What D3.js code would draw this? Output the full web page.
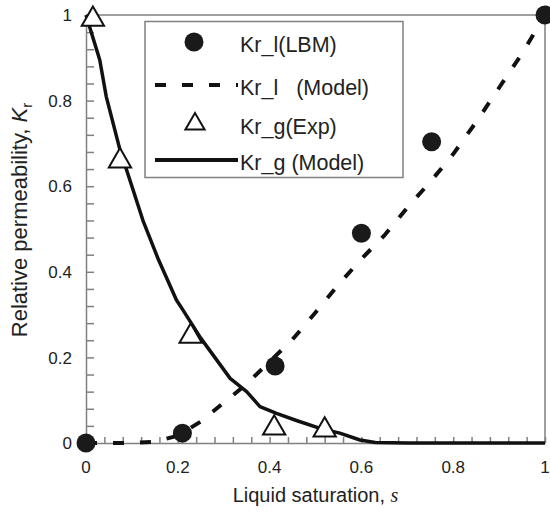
<!DOCTYPE html>
<html>
<head>
<meta charset="utf-8">
<script src="https://cdn.jsdelivr.net/npm/d3@7"></script>
<style>
  body { margin: 0; background: #fff; }
  svg { display: block; font-family: 'Liberation Sans', Arial, sans-serif; }
</style>
</head>
<body>
<svg id="chart" width="550" height="517"></svg>
<script>
// data
const lbmS = [0, 0.21, 0.412, 0.6, 0.753, 1.0]
const lbmKr = [0, 0.023, 0.18, 0.49, 0.704, 1.0]

const expS = [0.015, 0.074, 0.228, 0.41, 0.52]
const expKr = [0.99, 0.659, 0.249, 0.035, 0.03]

const klModelS = [0, 0.1, 0.15, 0.2, 0.25, 0.3, 0.35, 0.4, 0.45, 0.5, 0.55, 0.6, 0.65, 0.7, 0.75, 0.8, 0.85, 0.9, 0.95, 1.0]
const klModelKr = [0, 0, 0.003, 0.017, 0.05, 0.094, 0.138, 0.19, 0.242, 0.305, 0.37, 0.43, 0.485, 0.55, 0.61, 0.675, 0.75, 0.83, 0.91, 1.0]

const kgModelS = [0, 0.02, 0.03, 0.044, 0.074, 0.1, 0.125, 0.158, 0.197, 0.211, 0.25, 0.314, 0.35, 0.379, 0.415, 0.46, 0.51, 0.553, 0.597, 0.63, 0.7, 1.0]
const kgModelKr = [1.0, 0.93, 0.895, 0.81, 0.685, 0.6, 0.517, 0.428, 0.334, 0.311, 0.245, 0.151, 0.12, 0.085, 0.069, 0.052, 0.034, 0.023, 0.007, 0.001, 0, 0]

const majorTicks = [0, 0.2, 0.4, 0.6, 0.8, 1]
const tickLabels = ['0', '0.2', '0.4', '0.6', '0.8', '1']
const legendLabels = ['Kr_l(LBM)', 'Kr_l   (Model)', 'Kr_g(Exp)', 'Kr_g (Model)']

const margin = { top: 15, right: 5, bottom: 74, left: 86 }
const W = 550, H = 517
const innerW = W - margin.left - margin.right
const innerH = H - margin.top - margin.bottom
const axisColor = '#808080'
const textColor = '#222'

const svg = d3.select('#chart')
const g = svg.append('g').attr('transform', `translate(${margin.left},${margin.top})`)

const x = d3.scaleLinear().domain([0, 1]).range([0, innerW])
const y = d3.scaleLinear().domain([0, 1]).range([innerH, 0])

const minorTicks = d3.range(0, 26).map(i => i * 0.04)

// 边框 (top/right)
g.append('path')
  .attr('d', `M0,0H${innerW}V${innerH}`)
  .attr('fill', 'none')
  .attr('stroke', axisColor)
  .attr('stroke-width', 1.5)

// x axis
const xAxis = d3.axisBottom(x).tickValues(minorTicks).tickSizeInner(-6).tickSizeOuter(0).tickFormat('')
const xAxisG = g.append('g').attr('transform', `translate(0,${innerH})`).call(xAxis)
xAxisG.selectAll('path, line').attr('stroke', axisColor).attr('stroke-width', 1.5)

xAxisG.selectAll('text.tick-label')
  .data(majorTicks)
  .join('text')
  .attr('class', 'tick-label')
  .attr('x', d => x(d))
  .attr('y', 30)
  .attr('text-anchor', 'middle')
  .attr('font-size', 17)
  .attr('fill', textColor)
  .text((d, i) => tickLabels[i])

// y axis
const yAxis = d3.axisLeft(y).tickValues(minorTicks).tickSizeInner(-8).tickSizeOuter(0).tickFormat('')
const yAxisG = g.append('g').call(yAxis)
yAxisG.selectAll('path, line').attr('stroke', axisColor).attr('stroke-width', 1.5)

yAxisG.selectAll('text.tick-label')
  .data(majorTicks)
  .join('text')
  .attr('class', 'tick-label')
  .attr('x', -14)
  .attr('y', d => y(d))
  .attr('dy', '0.36em')
  .attr('text-anchor', 'end')
  .attr('font-size', 17)
  .attr('fill', textColor)
  .text((d, i) => tickLabels[i])

// 轴标题
svg.append('text')
  .attr('x', margin.left + innerW * 0.5)
  .attr('y', 502)
  .attr('text-anchor', 'middle')
  .attr('font-size', 20)
  .attr('fill', textColor)
  .call(t => {
    t.append('tspan').text('Liquid saturation, ')
    t.append('tspan').attr('font-family', "'Liberation Serif', 'Times New Roman', serif").attr('font-style', 'italic').text('s')
  })

svg.append('text')
  .attr('transform', 'translate(27,220) rotate(-90)')
  .attr('text-anchor', 'middle')
  .attr('font-size', 22)
  .attr('fill', textColor)
  .call(t => {
    t.append('tspan').text('Relative permeability, ')
    t.append('tspan').attr('font-style', 'italic').text('K')
    t.append('tspan').attr('font-size', 15).attr('dy', 5).text('r')
  })

// 曲线
const line = d3.line().x(d => x(d[0])).y(d => y(d[1]))

g.append('path')
  .datum(klModelS.map((s, i) => [s, klModelKr[i]]))
  .attr('d', line)
  .attr('fill', 'none')
  .attr('stroke', '#111')
  .attr('stroke-width', 4)
  .attr('stroke-dasharray', '11,16')

g.append('path')
  .datum(kgModelS.map((s, i) => [s, kgModelKr[i]]))
  .attr('d', line)
  .attr('fill', 'none')
  .attr('stroke', '#111')
  .attr('stroke-width', 3.5)
  .attr('stroke-linejoin', 'round')

// 散点
g.selectAll('circle.lbm')
  .data(lbmS.map((s, i) => [s, lbmKr[i]]))
  .join('circle')
  .attr('class', 'lbm')
  .attr('cx', d => x(d[0]))
  .attr('cy', d => y(d[1]))
  .attr('r', 9.5)
  .attr('fill', '#1a1a1a')

const tri = d3.symbol(d3.symbolTriangle, 215)
g.selectAll('path.exp')
  .data(expS.map((s, i) => [s, expKr[i]]))
  .join('path')
  .attr('class', 'exp')
  .attr('transform', d => `translate(${x(d[0])},${y(d[1])})`)
  .attr('d', tri)
  .attr('fill', '#fff')
  .attr('stroke', '#111')
  .attr('stroke-width', 2)

// 图例
const legend = svg.append('g')
legend.append('rect')
  .attr('x', 145).attr('y', 21.5)
  .attr('width', 258).attr('height', 156)
  .attr('fill', '#fff')
  .attr('stroke', axisColor)
  .attr('stroke-width', 1.5)

const rowY = [42, 85, 124, 160]
legend.append('circle').attr('cx', 194).attr('cy', rowY[0]).attr('r', 9.5).attr('fill', '#1a1a1a')
legend.append('line')
  .attr('x1', 155).attr('x2', 238).attr('y1', rowY[1]).attr('y2', rowY[1])
  .attr('stroke', '#111').attr('stroke-width', 4).attr('stroke-dasharray', '11,16')
legend.append('path')
  .attr('transform', `translate(195,${rowY[2]})`)
  .attr('d', d3.symbol(d3.symbolTriangle, 160))
  .attr('fill', '#fff').attr('stroke', '#111').attr('stroke-width', 2)
legend.append('line')
  .attr('x1', 155).attr('x2', 238).attr('y1', rowY[3]).attr('y2', rowY[3])
  .attr('stroke', '#111').attr('stroke-width', 4)

legend.selectAll('text')
  .data(legendLabels)
  .join('text')
  .attr('x', 240)
  .attr('y', (d, i) => rowY[i] + 2)
  .attr('dy', '0.36em')
  .attr('font-size', 21.5)
  .attr('fill', textColor)
  .style('white-space', 'pre')
  .text(d => d)
</script>
</body>
</html>
